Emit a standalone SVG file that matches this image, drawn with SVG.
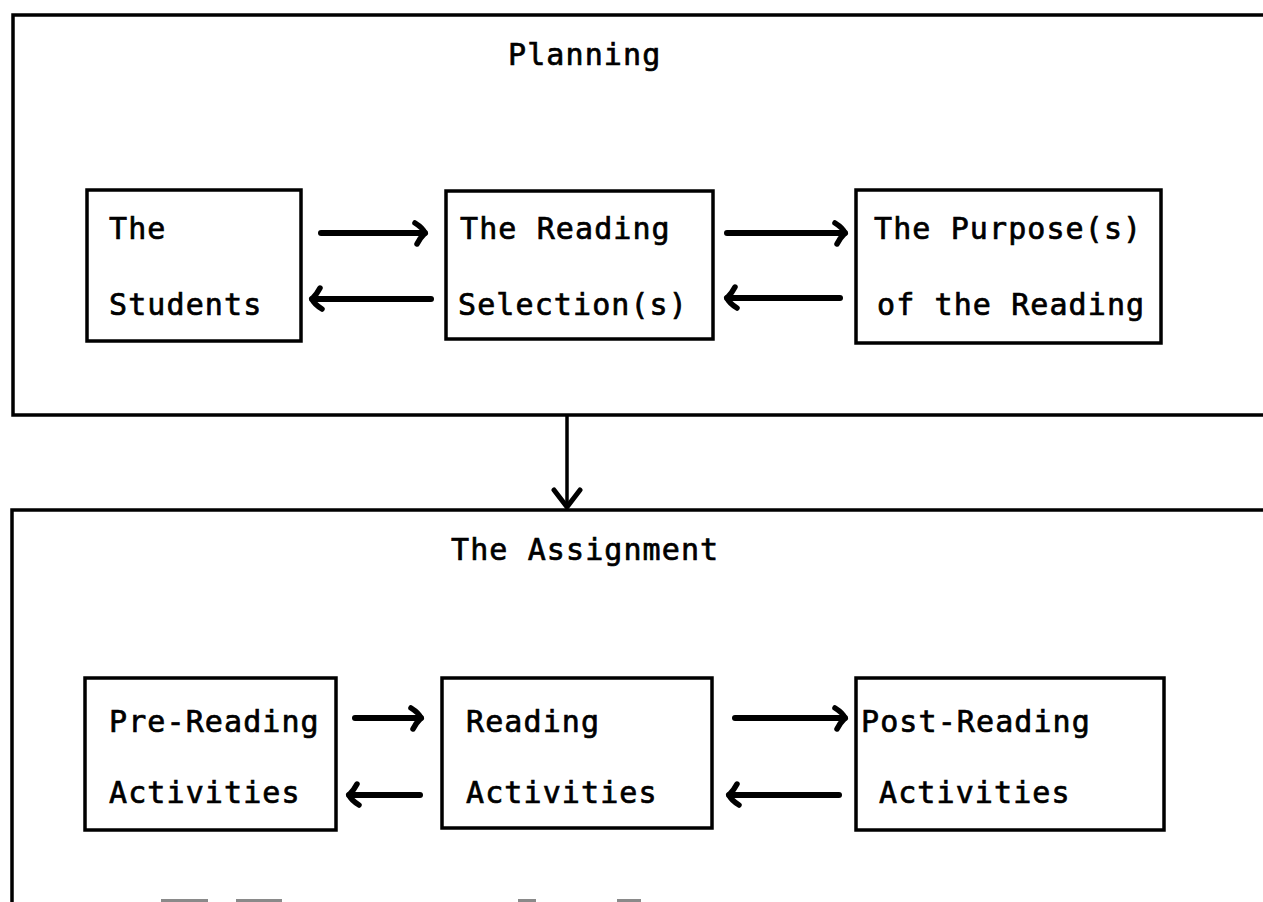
<svg xmlns="http://www.w3.org/2000/svg" width="1263" height="902" viewBox="0 0 1263 902">
<style>
  .frame { fill: none; stroke: #000; stroke-width: 3.5; }
  .box { fill: #fff; stroke: #000; stroke-width: 3.5; }
  .lbl { font-family: "DejaVu Sans Mono", "Liberation Mono", monospace; font-size: 30px; letter-spacing: 1.1px; fill: #000; stroke: #000; stroke-width: 0.7px; }
  .arr { fill: none; stroke: #000; stroke-width: 6; stroke-linecap: round; marker-end: url(#hook); }
  .varr { fill: none; stroke: #000; stroke-width: 3.5; marker-end: url(#vhead); }
  .scan { fill: #8a8a8a; }
</style>
<defs>
  <marker id="hook" viewBox="-16 -14 20 28" refX="0" refY="0" markerWidth="20" markerHeight="28" markerUnits="userSpaceOnUse" orient="auto">
    <path d="M -10 -10 Q -2 -5 0 0 Q -5 5 -8 11" fill="none" stroke="#000" stroke-width="5.5" stroke-linecap="round"/>
  </marker>
  <marker id="vhead" viewBox="-22 -18 26 36" refX="0" refY="0" markerWidth="26" markerHeight="36" markerUnits="userSpaceOnUse" orient="auto">
    <path d="M -17 -13 L 0 0 L -17 13" fill="none" stroke="#000" stroke-width="5" stroke-linecap="round" stroke-linejoin="round"/>
  </marker>
</defs>
<rect width="1263" height="902" fill="#fff"/>

<g id="planning">
  <path class="frame" d="M 1263 15 L 13 15 L 13 415 L 1263 415"/>
  <text class="lbl" x="508" y="65">Planning</text>
</g>

<g id="assignment">
  <path class="frame" d="M 1263 510 L 12 510 L 12 902"/>
  <text class="lbl" x="451" y="560">The Assignment</text>
</g>

<g id="students">
  <rect class="box" x="87" y="190" width="214" height="151"/>
  <text class="lbl" x="109" y="239">The</text>
  <text class="lbl" x="109" y="315">Students</text>
</g>

<g id="reading-selection">
  <rect class="box" x="446" y="191" width="267" height="148"/>
  <text class="lbl" x="460" y="239">The Reading</text>
  <text class="lbl" x="458" y="315">Selection(s)</text>
</g>

<g id="purpose">
  <rect class="box" x="856" y="190" width="305" height="153"/>
  <text class="lbl" x="874" y="239">The Purpose(s)</text>
  <text class="lbl" x="877" y="315">of the Reading</text>
</g>

<g id="pre-reading">
  <rect class="box" x="85" y="678" width="251" height="152"/>
  <text class="lbl" x="109" y="732">Pre-Reading</text>
  <text class="lbl" x="109" y="803">Activities</text>
</g>

<g id="reading-activities">
  <rect class="box" x="442" y="678" width="270" height="150"/>
  <text class="lbl" x="466" y="732">Reading</text>
  <text class="lbl" x="466" y="803">Activities</text>
</g>

<g id="post-reading">
  <rect class="box" x="856" y="678" width="308" height="152"/>
  <text class="lbl" x="861" y="732">Post-Reading</text>
  <text class="lbl" x="879" y="803">Activities</text>
</g>

<g id="connectors">
  <path class="arr" d="M 321 233 L 425 233"/>
  <path class="arr" d="M 431 299 L 312 299"/>
  <path class="arr" d="M 727 233 L 845 233"/>
  <path class="arr" d="M 840 298 L 727 298"/>
  <path class="arr" d="M 355 718 L 421 718"/>
  <path class="arr" d="M 420 795 L 349 795"/>
  <path class="arr" d="M 735 718 L 845 718"/>
  <path class="arr" d="M 839 795 L 729 795"/>
  <path class="varr" d="M 567 415 L 567 507"/>
</g>

<g id="scan-marks">
  <rect class="scan" x="161" y="899" width="47" height="3"/>
  <rect class="scan" x="236" y="899" width="46" height="3"/>
  <rect class="scan" x="518" y="899" width="18" height="3"/>
  <rect class="scan" x="617" y="899" width="24" height="3"/>
</g>
</svg>
